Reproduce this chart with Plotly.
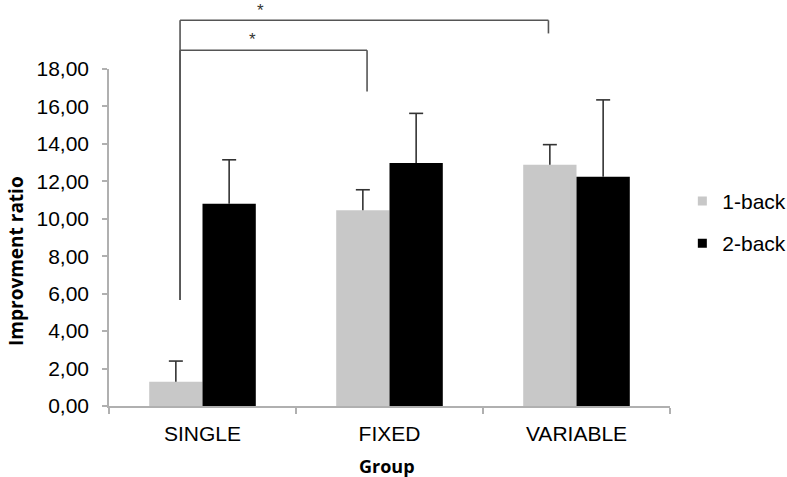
import plotly.graph_objects as go

groups = ["SINGLE", "FIXED", "VARIABLE"]
one_back = [1.30, 10.45, 12.88]
one_back_err = [1.10, 1.10, 1.08]
two_back = [10.80, 12.98, 12.25]
two_back_err = [2.35, 2.65, 4.10]
y_ticks = [0, 2, 4, 6, 8, 10, 12, 14, 16, 18]
y_tick_labels = ["0,00", "2,00", "4,00", "6,00", "8,00", "10,00", "12,00", "14,00", "16,00", "18,00"]
ymax = 18

AX = "#b0b0b0"
ERR = "#333333"
FONT = "Liberation Sans, Arial"
TFONT = "Open Sans, Lato"
fig = go.Figure()

series = [("1-back", one_back, one_back_err, "#c8c8c8", "1"),
          ("2-back", two_back, two_back_err, "#000000", "2")]
for name, vals, errs, col, og in series:
    fig.add_trace(go.Bar(
        x=groups, y=vals, name=name, showlegend=False,
        offsetgroup=og, alignmentgroup="g",
        marker=dict(color=col, line=dict(width=0)),
    ))
for name, vals, errs, col, og in series:
    tops = [v + e for v, e in zip(vals, errs)]
    fig.add_trace(go.Scatter(
        x=groups, y=tops, mode="markers", showlegend=False, hoverinfo="skip",
        offsetgroup=og, alignmentgroup="g", cliponaxis=False,
        marker=dict(symbol="line-ew", size=10, color=ERR, line=dict(color=ERR, width=1.6)),
        error_y=dict(type="data", symmetric=False, array=[0, 0, 0], arrayminus=errs,
                     color=ERR, thickness=1.6, width=0),
    ))
for name, vals, errs, col, og in series:
    fig.add_trace(go.Scatter(
        x=[None], y=[None], mode="markers", name=name, offsetgroup=og, alignmentgroup="g",
        legendgroup=og, marker=dict(symbol="square", size=9, color=col),
    ))

# significance brackets (x in category units, heights in data units -> paper)
brackets = [
    # (left x, right x, top level, left bottom, right bottom)
    (-0.12, 1.85, 20.6, 5.66, 19.9),
    (-0.12, 0.88, 19.0, 5.66, 16.8),
]
line_style = dict(color="#555555", width=1.6)
for x0, x1, top, lb, rb in brackets:
    fig.add_shape(type="line", xref="x", yref="paper", x0=x0, x1=x1, y0=top / ymax, y1=top / ymax, line=line_style)
    fig.add_shape(type="line", xref="x", yref="paper", x0=x0, x1=x0, y0=lb / ymax, y1=top / ymax, line=line_style)
    fig.add_shape(type="line", xref="x", yref="paper", x0=x1, x1=x1, y0=rb / ymax, y1=top / ymax, line=line_style)

stars = [(0.31, 21.15), (0.27, 19.6)]
for sx, sy in stars:
    fig.add_annotation(x=sx, y=sy / ymax, xref="x", yref="paper", text="*", showarrow=False,
                       font=dict(family=FONT, size=17, color="#333333"), yanchor="middle")

fig.add_annotation(x=-0.166, y=0.43, xref="paper", yref="paper", text="<b>Improvment ratio</b>",
                   textangle=-90, showarrow=False, xanchor="center", yanchor="middle",
                   font=dict(family=TFONT, size=19, color="#000000"))
fig.add_annotation(x=0.496, y=-0.177, xref="paper", yref="paper", text="<b>Group</b>",
                   showarrow=False, xanchor="center", yanchor="middle",
                   font=dict(family=TFONT, size=18, color="#000000"))

fig.update_layout(
    width=787, height=477,
    margin=dict(l=109, r=117, t=69, b=71, autoexpand=False),
    paper_bgcolor="white", plot_bgcolor="white",
    barmode="group", bargap=0.43, bargroupgap=0,
    scattermode="group", scattergap=0.43,
    font=dict(family=FONT, size=20, color="#000000"),
    legend=dict(x=1.022, y=0.545, xanchor="left", yanchor="middle",
                font=dict(family=FONT, size=21),
                tracegroupgap=12, itemwidth=30, bgcolor="rgba(0,0,0,0)"),
    xaxis=dict(showline=True, linecolor=AX, linewidth=1.5, ticks="outside", tickson="boundaries",
               ticklen=6, tickcolor=AX, tickwidth=1.5, showgrid=False, range=[-0.5, 2.5],
               tickfont=dict(size=21), ticklabelstandoff=8, automargin=False),
    yaxis=dict(showline=True, linecolor=AX, linewidth=1.5, ticks="outside", ticklen=5, tickcolor=AX,
               tickwidth=1.5, showgrid=False, zeroline=False, range=[0, ymax],
               tickvals=y_ticks, ticktext=y_tick_labels, tickfont=dict(size=21),
               ticklabelstandoff=9, automargin=False),
)
fig.write_html("out.html", config={"displayModeBar": False},
               post_script="document.body.style.margin='0';document.body.style.overflow='hidden';")
